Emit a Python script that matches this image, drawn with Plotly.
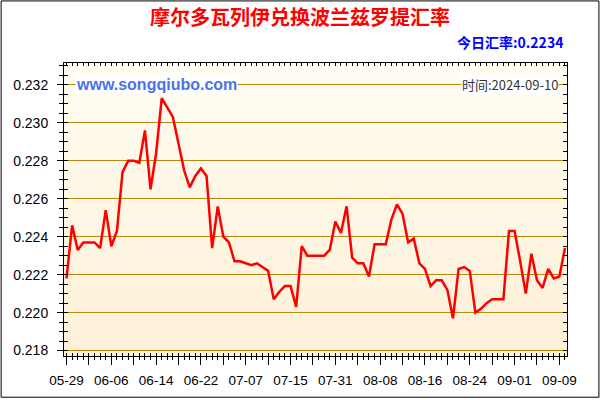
import plotly.graph_objects as go

# ---- data ----
title_text = "摩尔多瓦列伊兑换波兰兹罗提汇率"
date_labels = ["05-29", "06-06", "06-14", "06-22", "07-07", "07-15",
               "07-31", "08-08", "08-16", "08-24", "09-01", "09-09"]
label_step = 8
rates = [
    0.2218, 0.2246, 0.2233, 0.2237, 0.2237, 0.2237, 0.2234, 0.2254, 0.2235, 0.2243,
    0.2274, 0.2280, 0.2280, 0.2279, 0.2296, 0.2265, 0.2284, 0.2313, 0.2308, 0.2303,
    0.2289, 0.2275, 0.2266, 0.2272, 0.2276, 0.2272, 0.2234, 0.2256, 0.2240, 0.2237,
    0.2227, 0.2227, 0.2226, 0.2225, 0.2226, 0.2224, 0.2222, 0.2207, 0.2211, 0.2214,
    0.2214, 0.2203, 0.2235, 0.2230, 0.2230, 0.2230, 0.2230, 0.2233, 0.2248, 0.2242,
    0.2256, 0.2229, 0.2226, 0.2226, 0.2219, 0.2236, 0.2236, 0.2236, 0.2249, 0.2257,
    0.2252, 0.2237, 0.2239, 0.2226, 0.2223, 0.2214, 0.2217, 0.2217, 0.2212, 0.2197,
    0.2223, 0.2224, 0.2222, 0.2200, 0.2202, 0.2205, 0.2207, 0.2207, 0.2207, 0.2243,
    0.2243, 0.2227, 0.2210, 0.2231, 0.2217, 0.2213, 0.2223, 0.2218, 0.2219, 0.2234,
]
update_date = "2024-09-10"
site_text = "www.songqiubo.com"

# ---- layout constants ----
W, H = 600, 400
L, R, T, B = 63.5, 32.5, 63, 42
PW, PH = W - L - R, H - T - B
n = len(rates)
idx = list(range(n))
x_range = [-0.45, n - 1 + 0.36]
y_range = [0.217712, 0.233157]

tickvals = list(range(0, n, 4))
ticktext = []
for v in tickvals:
    if v % label_step == 0 and v // label_step < len(date_labels):
        ticktext.append(date_labels[v // label_step])
    else:
        ticktext.append("")

fig = go.Figure()
fig.add_trace(go.Scatter(x=idx, y=rates, mode="lines",
                         line=dict(color="#FF0000", width=2.5),
                         hoverinfo="skip", showlegend=False))
fig.add_trace(go.Scatter(x=idx, y=rates, mode="lines", xaxis="x2", yaxis="y2",
                         line=dict(color="rgba(0,0,0,0)", width=0),
                         hoverinfo="skip", showlegend=False))

# gradient background bands
nb = 40
top_c = (255, 253, 243)
bot_c = (253, 240, 215)
for k in range(nb):
    f = (k + 0.5) / nb
    c = tuple(round(bot_c[j] + (top_c[j] - bot_c[j]) * f) for j in range(3))
    fig.add_shape(type="rect", xref="x domain", yref="y domain",
                  x0=0, x1=1, y0=k / nb, y1=(k + 1) / nb + 0.002,
                  fillcolor="rgb(%d,%d,%d)" % c, line=dict(width=0), layer="below")

# outer border
fig.add_shape(type="rect", xref="paper", yref="paper",
              x0=(0.5 - L) / PW, x1=(W - 0.5 - L) / PW,
              y0=-(B - 0.5) / PH, y1=1 + (T - 0.5) / PH,
              line=dict(color="black", width=1), fillcolor="rgba(0,0,0,0)")

tickfont = dict(family="Liberation Sans, Arial", size=13.5, color="black")

fig.update_layout(
    width=W, height=H,
    margin=dict(l=L, r=R, t=T, b=B, pad=0),
    paper_bgcolor="white", plot_bgcolor="rgba(0,0,0,0)",
    showlegend=False,
    title=dict(text="<b>%s</b>" % title_text, xref="container", yref="container",
               x=0.5, xanchor="center", y=1 - 18 / H, yanchor="middle",
               font=dict(family="Noto Sans CJK SC", size=20, color="#FF0000")),
    xaxis=dict(range=x_range, tickmode="array", tickvals=tickvals, ticktext=ticktext,
               ticks="outside", ticklen=8, tickwidth=1, tickcolor="black",
               minor=dict(tickmode="linear", tick0=0, dtick=1, ticks="outside",
                          ticklen=3, tickcolor="black", showgrid=False),
               showgrid=False, zeroline=False, showline=True, linecolor="black",
               linewidth=1, mirror=True, tickfont=tickfont, ticklabelstandoff=4,
               fixedrange=True),
    xaxis2=dict(range=x_range, overlaying="x", anchor="y", side="bottom",
                tickmode="array", tickvals=tickvals, showticklabels=False,
                ticks="inside", ticklen=3, tickcolor="black",
                minor=dict(tickmode="linear", tick0=0, dtick=1, ticks="inside",
                           ticklen=3, tickcolor="black", showgrid=False),
                showgrid=False, zeroline=False, showline=True, linecolor="black",
                mirror="ticks"),
    yaxis=dict(range=y_range, tickmode="linear", tick0=0.218, dtick=0.002,
               tickformat=".3f", ticks="outside", ticklen=6, tickcolor="black",
               minor=dict(tickmode="linear", tick0=0.218, dtick=0.0005,
                          ticks="outside", ticklen=4, tickcolor="black", showgrid=False),
               showgrid=True, gridcolor="#B8860B", gridwidth=1.3,
               zeroline=False, showline=True, linecolor="black", linewidth=1,
               mirror=True, tickfont=dict(family="Liberation Sans, Arial", size=14,
                                          color="black"),
               ticklabelstandoff=6, fixedrange=True),
    yaxis2=dict(range=y_range, overlaying="y", anchor="x", side="left",
                tickmode="linear", tick0=0.218, dtick=0.002, showticklabels=False,
                ticks="inside", ticklen=4, tickcolor="black",
                minor=dict(tickmode="linear", tick0=0.218, dtick=0.0005,
                           ticks="inside", ticklen=4, tickcolor="black", showgrid=False),
                showgrid=False, zeroline=False, showline=True, linecolor="black",
                mirror="ticks"),
)

fig.add_annotation(text="<b>今日汇率:%.4f</b>" % rates[-1], xref="paper", yref="paper",
                   x=(565 - L) / PW, xanchor="right",
                   y=1 + (T - 42) / PH, yanchor="middle", showarrow=False,
                   font=dict(family="Noto Sans CJK SC", size=14, color="#0000FF"))
fig.add_annotation(text="<b>%s</b>" % site_text, xref="paper", yref="y",
                   x=(75 - L) / PW, xanchor="left", y=0.232, yanchor="middle",
                   showarrow=False, bgcolor="white", borderpad=0,
                   font=dict(family="Liberation Sans, Arial", size=16, color="#4A72EC"))
fig.add_annotation(text="时间:%s" % update_date, xref="paper", yref="y",
                   x=(559 - L) / PW, xanchor="right", y=0.232, yanchor="middle",
                   showarrow=False, bgcolor="white", borderpad=0,
                   font=dict(family="Noto Sans CJK SC", size=13, color="#333333"))

fig.write_html("out.html", config={"displayModeBar": False})
